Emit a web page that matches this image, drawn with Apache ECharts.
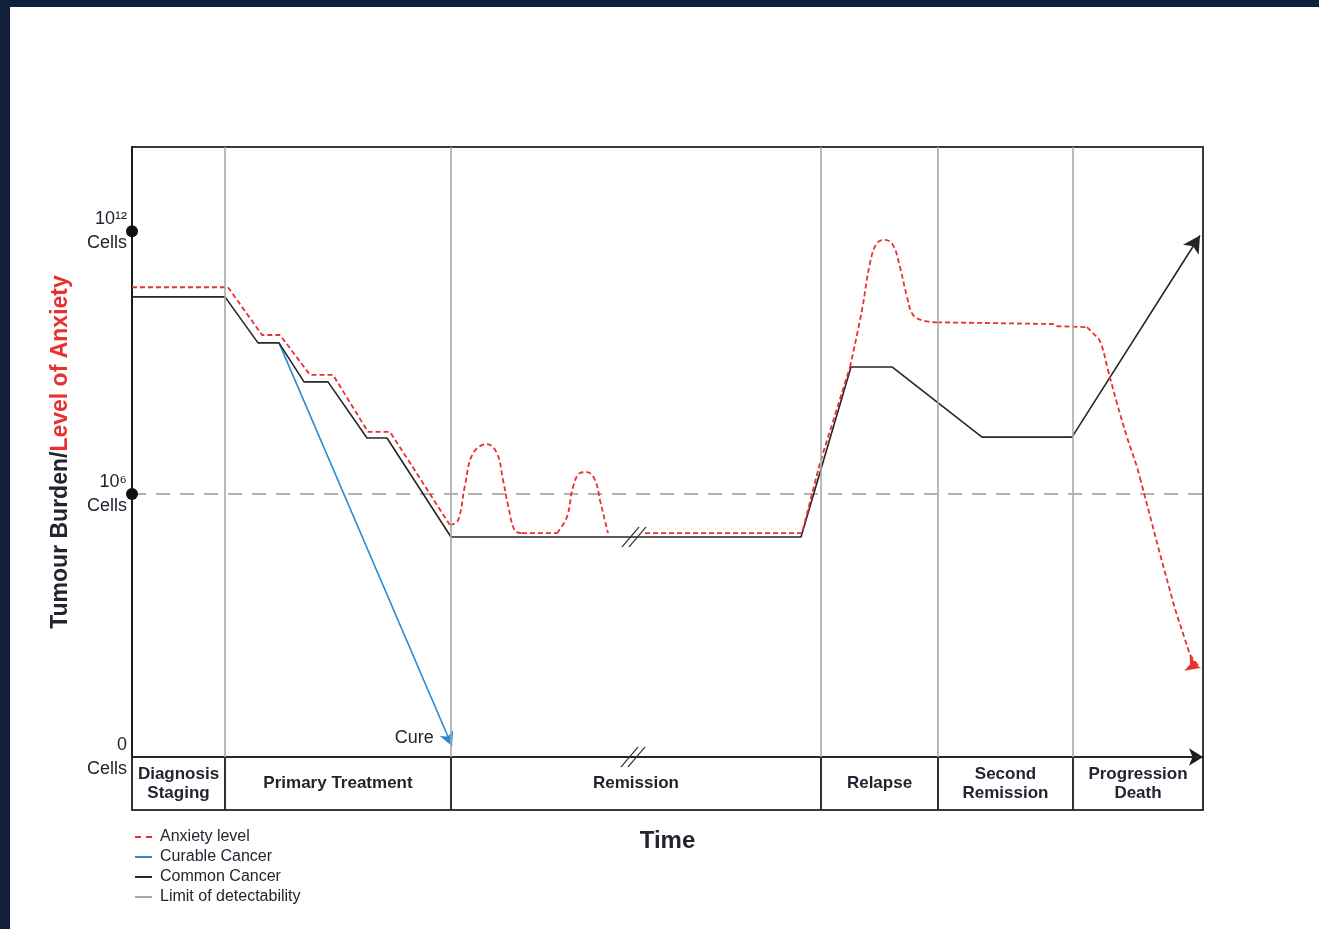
<!DOCTYPE html>
<html><head><meta charset="utf-8">
<script src="https://cdn.jsdelivr.net/npm/echarts@6/dist/echarts.min.js"></script>
<style>
html,body{margin:0;padding:0;background:#0f1f3c;width:1319px;height:929px;overflow:hidden}
#c{position:absolute;left:10px;top:7px;width:1309px;height:922px;background:#fff}
</style>
</head><body><div id="c"></div>
<script>
// ---- data (time units on x, log10(cells) on y) ----
const phases = ['Diagnosis\nStaging', 'Primary Treatment', 'Remission', 'Relapse', 'Second\nRemission', 'Progression\nDeath'];
const phaseBounds = [0, 9.3, 31.9, 68.9, 80.6, 94.1, 107.1];
const yTickLabels = {0: '0\nCells', 6: '10⁶\nCells', 12: '10¹²\nCells'};
const detectLimit = 6;

const commonCancer = [[0,10.5],[9.3,10.5],[12.6,9.45],[14.7,9.45],[17.2,8.56],[19.6,8.56],[23.5,7.28],[25.5,7.28],[31.9,5.02],[66.9,5.02],[71.9,8.9],[76.0,8.9],[85.0,7.3],[94.0,7.3],[106.8,11.9]];
const curableCancer = [[14.7,9.45],[32.0,0.25]];

const anxietySteps = [[0,10.72],[9.6,10.72],[13.0,9.63],[14.8,9.63],[17.8,8.72],[20.1,8.72],[23.6,7.42],[25.8,7.42],[31.8,5.29]];
const anxietyBump1 = [[31.8,5.29],[32.6,5.40],[33.3,6.20],[34.1,6.93],[35.5,7.14],[36.5,6.93],[37.1,6.32],[37.6,5.75],[38.3,5.16],[39.0,5.11]];
const anxietyFlat1 = [[39.0,5.11],[42.5,5.11]];
const anxietyBump2 = [[42.5,5.11],[43.5,5.48],[44.1,6.16],[44.8,6.48],[45.5,6.50],[46.3,6.32],[46.8,5.86],[47.5,5.20],[47.6,5.11]];
const anxietyFlat2 = [[51.3,5.11],[67.0,5.11],[68.8,6.71],[71.8,8.9]];
const anxietyPeak = [[71.8,8.9],[73.0,10.2],[73.8,11.27],[74.5,11.73],[75.3,11.80],[76.1,11.68],[76.8,11.18],[77.5,10.5],[78.1,10.09],[79.1,9.96],[80.5,9.92]];
const anxietyPlateau = [[80.5,9.92],[92.1,9.88],[92.5,9.83],[95.5,9.81]];
const anxietyFall = [[95.5,9.81],[96.1,9.67],[96.8,9.49],[97.6,8.83],[98.5,8.07],[99.5,7.30],[100.5,6.62],[100.8,6.37]];
const anxietyEnd = [[100.8,6.37],[102.8,4.63],[104.3,3.38],[105.8,2.33],[106.8,2.03]];
const breakMarks = [[50.2,5.02],[50.1,0]];

// ---- styles ----
const FONT = "'Liberation Sans Narrow','Liberation Sans',sans-serif";
const TXT = '#222430';
const RED = '#e8302f';
const BLUE = '#2b8bd2';
const BLACK = '#262626';
const GRAY = '#a8a8a8';

function withArrow(arr, rot, color, size, extra) {
  return arr.map((p, i) => i === arr.length - 1
    ? Object.assign({value: p, symbol: 'arrow', symbolSize: size, symbolRotate: rot, itemStyle: {color: color}}, extra || {})
    : p);
}

const redStyle = {color: RED, width: 1.8, type: [5, 3]};
function anxSeries(data, smooth, lastArrow) {
  return {
    name: 'Anxiety level', type: 'line', xAxisIndex: 0, yAxisIndex: 0,
    data: lastArrow ? withArrow(data, -110, RED, [12, 14]) : data,
    smooth: smooth, symbol: 'none', lineStyle: redStyle, itemStyle: {color: RED},
    z: 4, silent: true, animation: false
  };
}

const phaseAreas = phases.map((p, i) => [{xAxis: phaseBounds[i], name: p}, {xAxis: phaseBounds[i + 1]}]);
const innerBounds = phaseBounds.slice(1, -1);

const chart = echarts.init(document.getElementById('c'));
chart.setOption({
  backgroundColor: '#fff',
  animation: false,
  textStyle: {fontFamily: FONT},
  legend: {
    left: 120, top: 817, orient: 'vertical', itemGap: 4, itemWidth: 17, itemHeight: 2,
    textStyle: {fontFamily: FONT, fontSize: 16, color: TXT, padding: [0, 0, 0, 3]},
    data: [
      {name: 'Anxiety level', icon: 'path://M0,0H6V2H0Z M11,0H17V2H11Z', itemStyle: {color: RED}},
      {name: 'Curable Cancer', icon: 'path://M0,0H17V2H0Z', itemStyle: {color: BLUE}},
      {name: 'Common Cancer', icon: 'path://M0,0H17V2H0Z', itemStyle: {color: BLACK}},
      {name: 'Limit of detectability', icon: 'path://M0,0H17V2H0Z', itemStyle: {color: GRAY}}
    ]
  },
  grid: [
    {left: 122, right: 116, top: 140, bottom: 172, show: true, borderColor: '#3a3a3a', borderWidth: 2},
    {left: 122, right: 116, top: 750, height: 53, show: true, borderColor: '#2a2a2a', borderWidth: 1.6}
  ],
  xAxis: [
    {type: 'value', gridIndex: 0, min: 0, max: 107.1,
      axisLine: {show: true, lineStyle: {color: '#1a1a1a', width: 2}, symbol: ['none', 'arrow'], symbolSize: [13, 14], symbolOffset: [0, 0]},
      axisTick: {show: false}, axisLabel: {show: false}, splitLine: {show: false}},
    {type: 'value', gridIndex: 1, min: 0, max: 107.1,
      axisLine: {show: false}, axisTick: {show: false}, axisLabel: {show: false}, splitLine: {show: false},
      name: 'Time', nameLocation: 'middle', nameGap: 19,
      nameTextStyle: {fontFamily: FONT, fontSize: 24, fontWeight: 'bold', color: TXT}}
  ],
  yAxis: [
    {type: 'value', gridIndex: 0, min: 0, max: 13.92, interval: 6,
      axisLine: {show: true, lineStyle: {color: '#1a1a1a', width: 2}},
      axisTick: {show: false}, splitLine: {show: false},
      axisLabel: {margin: 5, fontFamily: FONT, fontSize: 18, color: TXT, lineHeight: 24, align: 'right',
        padding: [9, 0, 0, 0], formatter: v => yTickLabels[v] || ''},
      name: '{a|Tumour Burden/}{b|Level of Anxiety}', nameLocation: 'middle', nameGap: 60,
      nameTextStyle: {rich: {
        a: {fontFamily: FONT, fontSize: 23, fontWeight: 'bold', color: TXT},
        b: {fontFamily: FONT, fontSize: 23, fontWeight: 'bold', color: RED}}}},
    {type: 'value', gridIndex: 1, min: 0, max: 1,
      axisLine: {show: false}, axisTick: {show: false}, axisLabel: {show: false}, splitLine: {show: false}}
  ],
  series: [
    {
      name: 'Limit of detectability', type: 'line', xAxisIndex: 0, yAxisIndex: 0,
      data: [[0, detectLimit], [107.1, detectLimit]], symbol: 'none',
      lineStyle: {color: '#999', width: 1.6, type: [14, 10]}, itemStyle: {color: GRAY},
      z: 2, silent: true,
      markLine: {
        silent: true, symbol: 'none', label: {show: false},
        lineStyle: {color: GRAY, width: 1.6, type: 'solid'},
        data: innerBounds.map(b => ({xAxis: b}))
      },
      markPoint: {
        silent: true, symbol: 'circle', symbolSize: 12, itemStyle: {color: '#111'}, label: {show: false},
        data: [{coord: [0, 6]}, {coord: [0, 12]}]
      }
    },
    anxSeries(anxietySteps, false),
    anxSeries(anxietyBump1, 0.4),
    anxSeries(anxietyFlat1, false),
    anxSeries(anxietyBump2, 0.4),
    anxSeries(anxietyFlat2, false),
    anxSeries(anxietyPeak, 0.4),
    anxSeries(anxietyPlateau, false),
    anxSeries(anxietyFall, 0.4),
    anxSeries(anxietyEnd, false, true),
    {
      name: 'Curable Cancer', type: 'line', xAxisIndex: 0, yAxisIndex: 0,
      data: withArrow(curableCancer, -156.8, BLUE, [11, 14], {label: {show: true, position: 'left', distance: 6, formatter: 'Cure', fontFamily: FONT, fontSize: 18, color: TXT, offset: [0, -2]}}),
      symbol: 'none', lineStyle: {color: BLUE, width: 1.6}, itemStyle: {color: BLUE}, z: 3, silent: true
    },
    {
      name: 'Common Cancer', type: 'line', xAxisIndex: 0, yAxisIndex: 0,
      data: withArrow(commonCancer, -32.7, BLACK, [14, 17]),
      symbol: 'none', lineStyle: {color: BLACK, width: 1.6}, itemStyle: {color: BLACK}, z: 3, silent: true,
      markPoint: {
        silent: true, symbol: 'path://M0,20 L17,0 M7,20 L24,0', symbolSize: [24, 20],
        itemStyle: {color: 'none', borderColor: '#333', borderWidth: 1.3}, label: {show: false},
        data: breakMarks.map(p => ({coord: p}))
      }
    },
    {
      name: 'phases', type: 'line', xAxisIndex: 1, yAxisIndex: 1, data: [[0, 0]], symbol: 'none',
      lineStyle: {opacity: 0}, silent: true,
      markArea: {
        silent: true,
        itemStyle: {color: 'rgba(0,0,0,0)', borderColor: '#2a2a2a', borderWidth: 1.6},
        label: {show: true, position: 'inside', fontFamily: FONT, fontSize: 17, fontWeight: 'bold', color: TXT, lineHeight: 19},
        data: phaseAreas
      }
    }
  ]
});
</script>
</body></html>
